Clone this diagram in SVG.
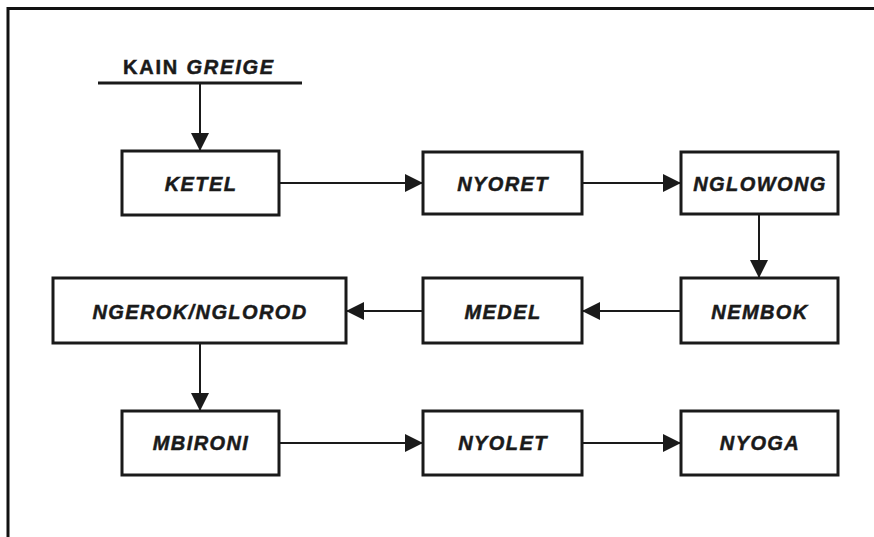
<svg xmlns="http://www.w3.org/2000/svg" width="874" height="537" viewBox="0 0 874 537">
<style>
.box{fill:#fff;stroke:#1a1a1a;stroke-width:3}
.lbl{font-family:"Liberation Sans",Arial,sans-serif;font-weight:bold;font-style:italic;font-size:20px;letter-spacing:1.4px;fill:#1a1a1a;stroke:#1a1a1a;stroke-width:0.5;text-anchor:middle}
.con{stroke:#1a1a1a;stroke-width:2;fill:none;marker-end:url(#ah)}
</style>
<defs>
<marker id="ah" viewBox="0 0 18 18" refX="18" refY="9" markerWidth="18" markerHeight="18" markerUnits="userSpaceOnUse" orient="auto">
<path d="M0,0 L18,9 L0,18 Z" fill="#1a1a1a"/>
</marker>
</defs>
<rect width="874" height="537" fill="#fff"/>
<g id="frame" fill="none" stroke="#111" stroke-width="3">
<path d="M8,537 V8.5 H874"/>
</g>
<g id="source">
<text x="199" y="74" font-family="'Liberation Sans',Arial,sans-serif" font-weight="bold" font-size="20" letter-spacing="1.8" text-anchor="middle" fill="#1a1a1a" stroke="#1a1a1a" stroke-width="0.5">KAIN <tspan font-style="italic">GREIGE</tspan></text>
<line x1="98" y1="83" x2="302" y2="83" stroke="#1a1a1a" stroke-width="3"/>
</g>
<g id="connectors">
<line class="con" x1="200" y1="83" x2="200" y2="151"/>
<line class="con" x1="279" y1="183" x2="423" y2="183"/>
<line class="con" x1="582" y1="183" x2="681" y2="183"/>
<line class="con" x1="759" y1="214" x2="759" y2="278"/>
<line class="con" x1="681" y1="311" x2="582" y2="311"/>
<line class="con" x1="423" y1="311" x2="346" y2="311"/>
<line class="con" x1="200" y1="343" x2="200" y2="411"/>
<line class="con" x1="279" y1="443" x2="423" y2="443"/>
<line class="con" x1="582" y1="443" x2="681" y2="443"/>
</g>
<g id="ketel"><rect class="box" x="122" y="151" width="157" height="64"/><text class="lbl" x="201" y="191">KETEL</text></g>
<g id="nyoret"><rect class="box" x="423" y="152" width="159" height="62"/><text class="lbl" x="503" y="191">NYORET</text></g>
<g id="nglowong"><rect class="box" x="681" y="152" width="157" height="62"/><text class="lbl" x="760" y="191">NGLOWONG</text></g>
<g id="nembok"><rect class="box" x="681" y="278" width="157" height="65"/><text class="lbl" x="760" y="319">NEMBOK</text></g>
<g id="medel"><rect class="box" x="423" y="278" width="159" height="65"/><text class="lbl" x="503" y="319">MEDEL</text></g>
<g id="ngerok"><rect class="box" x="53" y="278" width="293" height="65"/><text class="lbl" x="200" y="319">NGEROK/NGLOROD</text></g>
<g id="mbironi"><rect class="box" x="122" y="411" width="157" height="64"/><text class="lbl" x="201" y="450">MBIRONI</text></g>
<g id="nyolet"><rect class="box" x="423" y="411" width="159" height="64"/><text class="lbl" x="503" y="450">NYOLET</text></g>
<g id="nyoga"><rect class="box" x="681" y="411" width="157" height="64"/><text class="lbl" x="760" y="450">NYOGA</text></g>
</svg>
